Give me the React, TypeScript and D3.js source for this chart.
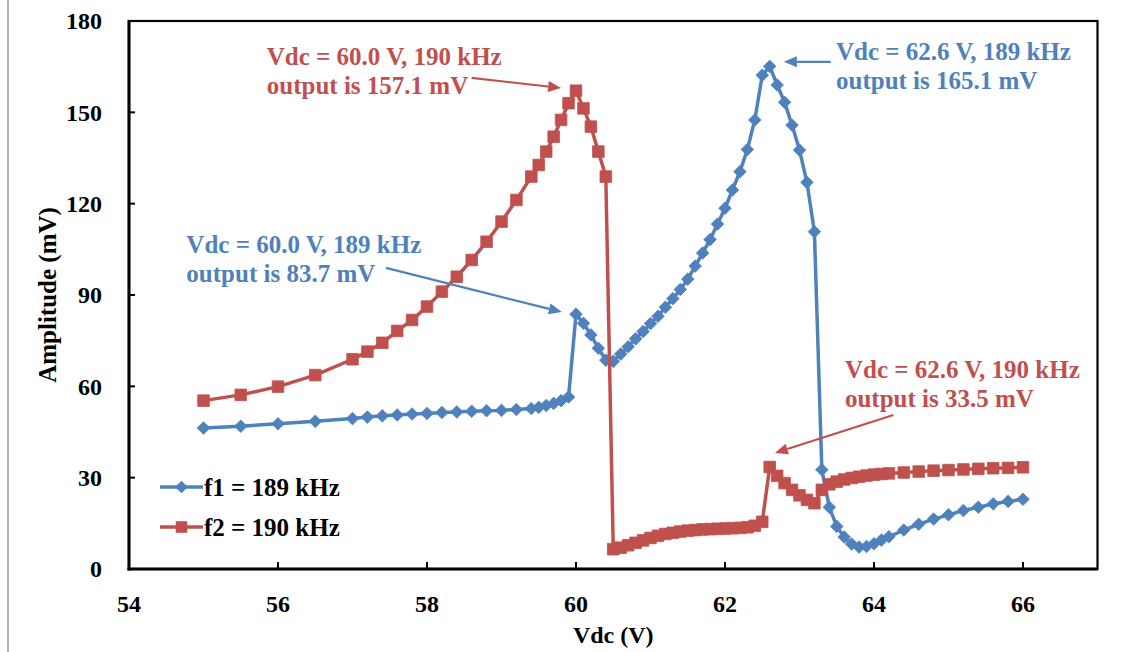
import React from "react";
import * as d3 from "d3";

const vdc = [55, 55.5, 56, 56.5, 57, 57.2, 57.4, 57.6, 57.8, 58, 58.2, 58.4, 58.6, 58.8, 59, 59.2, 59.4,
  59.5, 59.6, 59.7, 59.8, 59.9, 60, 60.1, 60.2, 60.3, 60.4, 60.5, 60.6, 60.7, 60.8, 60.9, 61, 61.1, 61.2,
  61.3, 61.4, 61.5, 61.6, 61.7, 61.8, 61.9, 62, 62.1, 62.2, 62.3, 62.4, 62.5, 62.6, 62.7, 62.8, 62.9, 63,
  63.1, 63.2, 63.3, 63.4, 63.5, 63.6, 63.7, 63.8, 63.9, 64, 64.1, 64.2, 64.4, 64.6, 64.8, 65, 65.2, 65.4,
  65.6, 65.8, 66];

const f1 = [46.3, 46.9, 47.7, 48.5, 49.4, 49.9, 50.3, 50.6, 50.9, 51.1, 51.4, 51.6, 51.8, 52.0, 52.1, 52.4, 52.7,
  53.1, 53.7, 54.4, 55.3, 56.5, 83.7, 80.7, 76.9, 72.5, 68.6, 68.2, 70.6, 73.0, 75.6, 78.0, 80.6, 83.0, 86.0,
  88.8, 91.8, 95.2, 99.5, 103.8, 108.2, 113.3, 118.5, 124.5, 130.5, 137.8, 147.5, 162.2, 165.1, 159.0, 153.3, 145.8, 137.6,
  127.0, 110.8, 32.6, 20.3, 14.0, 10.5, 8.2, 7.2, 7.4, 8.3, 9.5, 10.6, 12.8, 14.7, 16.4, 17.8, 19.2, 20.3,
  21.4, 22.2, 22.9];

const f2 = [55.3, 57.2, 59.9, 63.7, 68.9, 71.4, 74.3, 78.2, 81.8, 86.2, 91.1, 96.0, 101.5, 107.5, 114.1, 121.2, 128.9,
  132.7, 137.1, 142.0, 147.5, 153.0, 157.1, 151.3, 145.3, 137.1, 128.9, 6.5, 7.0, 7.8, 8.6, 9.4, 10.2, 10.9, 11.5,
  11.9, 12.3, 12.6, 12.8, 13.0, 13.1, 13.2, 13.3, 13.4, 13.5, 13.7, 14.2, 15.5, 33.5, 30.6, 28.2, 26.0, 24.2,
  22.7, 21.6, 26.0, 27.8, 28.7, 29.4, 29.9, 30.3, 30.7, 31.0, 31.2, 31.4, 31.7, 32.0, 32.3, 32.5, 32.7, 32.9,
  33.1, 33.2, 33.4];

const xTicks = [54, 56, 58, 60, 62, 64, 66];
const yTicks = [0, 30, 60, 90, 120, 150, 180];
const seriesNames = ["f1 = 189 kHz", "f2 = 190 kHz"];

// annotations: text anchor (left, first baseline) and arrow, in data units
const annLines = [
  ["Vdc = 60.0 V, 190 kHz", "output is 157.1 mV"],
  ["Vdc = 62.6 V, 189 kHz", "output is 165.1 mV"],
  ["Vdc = 60.0 V, 189 kHz", "output is 83.7 mV"],
  ["Vdc = 62.6 V, 190 kHz", "output is 33.5 mV"],
];
const annSeries = [1, 0, 0, 1];
const annTextAt = [[55.85, 165.6], [63.49, 167.2], [54.77, 103.8], [63.61, 62.7]];
const annArrowFrom = [[58.6, 161.3], [63.42, 166.6], [57.45, 98.9], [64.26, 50.6]];
const annArrowTo = [[59.8, 158.0], [62.79, 166.6], [59.81, 84.4], [62.67, 38.1]];

const W = 1122, H = 652;
const L = 129, R = 1097.5, T = 21, B = 569;
const COLORS = ["#4F81BD", "#C0504D"];
const FONT = "'Liberation Serif', 'Times New Roman', serif";

export default function App() {
  const x = d3.scaleLinear().domain([54, 67]).range([L, R]);
  const y = d3.scaleLinear().domain([0, 180]).range([B, T]);
  const line = d3.line<number>().x((_, i) => x(vdc[i])).y((d) => y(d));
  const series = [f1, f2];

  const diamond = (cx: number, cy: number, r: number) =>
    `M${cx},${cy - r}L${cx + r},${cy}L${cx},${cy + r}L${cx - r},${cy}Z`;
  const square = (cx: number, cy: number, s: number) =>
    `M${cx - s},${cy - s}h${2 * s}v${2 * s}h${-2 * s}Z`;
  const marker = (si: number, cx: number, cy: number) =>
    si === 0 ? diamond(cx, cy, 6.3) : square(cx, cy, 5.8);

  const arrowHead = (x1: number, y1: number, x2: number, y2: number) => {
    const a = Math.atan2(y2 - y1, x2 - x1);
    const len = 13, w = 5.5;
    const bx = x2 - len * Math.cos(a), by = y2 - len * Math.sin(a);
    const px = -Math.sin(a) * w, py = Math.cos(a) * w;
    return { pts: `${x2},${y2} ${bx + px},${by + py} ${bx - px},${by - py}`, bx, by };
  };

  return (
    <svg width={W} height={H} style={{ position: "absolute", left: 0, top: 0, background: "#fff" }}
      fontFamily={FONT} fontWeight="bold">
      <rect x={0} y={0} width={W} height={H} fill="#fff" />
      <line x1={8} x2={8} y1={0} y2={H} stroke="#b5b5b5" strokeWidth={2} />

      {/* plot frame */}
      <rect x={L} y={T} width={R - L} height={B - T} fill="none" stroke="#000" strokeWidth={2.2} />
      <line x1={L} x2={L} y1={T - 1} y2={B + 1.5} stroke="#000" strokeWidth={3} />
      <line x1={L - 1.5} x2={R} y1={B} y2={B} stroke="#000" strokeWidth={3} />

      {/* ticks */}
      {yTicks.map((t) => (
        <g key={"y" + t}>
          <line x1={L} x2={L + 6} y1={y(t)} y2={y(t)} stroke="#000" strokeWidth={2} />
          <text x={L - 27} y={y(t)} dy="0.35em" textAnchor="end" fontSize={24}>{t}</text>
        </g>
      ))}
      {xTicks.map((t) => (
        <g key={"x" + t}>
          <line x1={x(t)} x2={x(t)} y1={B} y2={B - 7} stroke="#000" strokeWidth={2} />
          <text x={x(t)} y={612} textAnchor="middle" fontSize={24}>{t}</text>
        </g>
      ))}
      <text x={(L + R) / 2} y={643} textAnchor="middle" fontSize={24}>Vdc (V)</text>
      <text transform={`translate(56,${(T + B) / 2}) rotate(-90)`} textAnchor="middle" fontSize={25}>Amplitude (mV)</text>

      {/* series */}
      {series.map((s, si) => (
        <g key={"s" + si}>
          <path d={line(s) || ""} fill="none" stroke={COLORS[si]} strokeWidth={3.5} strokeLinejoin="round" />
          {s.map((v, i) => (
            <path key={i} d={marker(si, x(vdc[i]), y(v))} fill={COLORS[si]} stroke={COLORS[si]} strokeWidth={0.8} />
          ))}
        </g>
      ))}

      {/* legend */}
      {seriesNames.map((n, si) => {
        const ly = 487 + si * 40;
        return (
          <g key={"l" + si}>
            <line x1={160} x2={203} y1={ly} y2={ly} stroke={COLORS[si]} strokeWidth={3.5} />
            <path d={marker(si, 181.5, ly)} fill={COLORS[si]} />
            <text x={204} y={ly} dy="0.35em" fontSize={25} fill="#000">{n}</text>
          </g>
        );
      })}

      {/* annotations */}
      {annLines.map((lines, ai) => {
        const c = COLORS[annSeries[ai]];
        const tx = x(annTextAt[ai][0]), ty = y(annTextAt[ai][1]);
        const x1 = x(annArrowFrom[ai][0]), y1 = y(annArrowFrom[ai][1]);
        const x2 = x(annArrowTo[ai][0]), y2 = y(annArrowTo[ai][1]);
        const h = arrowHead(x1, y1, x2, y2);
        return (
          <g key={"a" + ai}>
            {lines.map((t, li) => (
              <text key={li} x={tx} y={ty + li * 29} fontSize={25} fill={c}>{t}</text>
            ))}
            <line x1={x1} y1={y1} x2={h.bx} y2={h.by} stroke={c} strokeWidth={2.2} />
            <polygon points={h.pts} fill={c} />
          </g>
        );
      })}
    </svg>
  );
}
